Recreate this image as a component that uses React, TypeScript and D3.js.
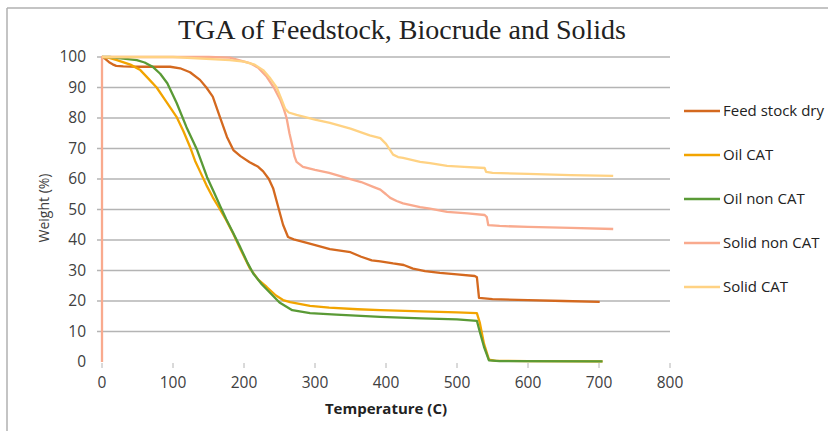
import React from "react";
import * as d3 from "d3";

const title = "TGA of Feedstock, Biocrude and Solids";
const xTicks = [0, 100, 200, 300, 400, 500, 600, 700, 800];
const yTicks = [0, 10, 20, 30, 40, 50, 60, 70, 80, 90, 100];

const seriesNames = ["Feed stock dry", "Oil CAT", "Oil non CAT", "Solid non CAT", "Solid CAT"];
const seriesColors = ["#D4691F", "#F2A400", "#5A9A36", "#F9AA8E", "#FFD283"];

const feedT = [0, 5, 10, 15, 20, 30, 50, 70, 96, 110, 124, 138, 147, 156, 166, 176, 185, 195, 208, 220, 227, 235, 241, 248, 255, 262, 270, 290, 321, 350, 365, 380, 392, 410, 425, 438, 455, 476, 500, 525, 528, 531, 550, 600, 650, 701];
const feedW = [100, 99.3, 98.3, 97.6, 97.1, 96.9, 96.8, 96.8, 96.8, 96.3, 95, 92.5, 90, 87, 80.4, 73.8, 69.5, 67.5, 65.5, 64, 62.5, 60, 57, 51, 45, 41, 40.2, 39, 37, 36, 34.5, 33.3, 33, 32.3, 31.8, 30.6, 29.8, 29.2, 28.7, 28.2, 27.8, 21, 20.6, 20.3, 20, 19.7];

const oilCatT = [0, 10, 21, 40, 54, 65, 77, 90, 105, 115, 124, 131, 138, 147, 156, 165, 175, 185, 195, 208, 220, 232, 245, 255, 265, 293, 320, 360, 392, 450, 500, 528, 532, 538, 545, 555, 600, 705];
const oilCatW = [100, 99.7, 99, 97.5, 95.7, 93, 90, 85.5, 80.4, 75.5, 70.5, 66, 62.5, 58, 54, 50.5, 46.5, 42, 37, 30.8, 27, 24.6, 21.8, 20.3, 19.6, 18.4, 17.8, 17.3, 17, 16.6, 16.3, 16, 13, 6, 0.8, 0.4, 0.3, 0.2];

const oilNonT = [0, 11, 30, 49, 60, 72, 82, 92, 105, 119, 134, 148, 158, 167, 175, 185, 195, 205, 213, 225, 237, 250, 268, 293, 330, 392, 450, 500, 528, 532, 538, 545, 560, 705];
const oilNonW = [100, 100, 99.5, 99, 98.2, 96.7, 94.5, 91.4, 85, 77, 69.5, 60.6, 55.5, 50.8, 46.8, 42.2, 37.5, 32.5, 29, 25.5, 22.6, 19.5, 17, 16, 15.5, 14.8, 14.3, 14, 13.5, 10, 5, 0.5, 0.3, 0.2];

const solidNonT = [0, 0, 50, 100, 150, 180, 208, 220, 232, 242, 251, 256, 260, 264, 268, 271, 274, 283, 300, 320, 345, 365, 382, 392, 400, 406, 415, 424, 448, 462, 486, 515, 539, 542, 544, 560, 600, 660, 720];
const solidNonW = [0, 100, 100, 100, 100, 99.8, 98, 96.5, 93.5, 90, 86, 83, 80, 75, 71, 67.5, 65.6, 64, 63, 62, 60.3, 59, 57.4, 56.5, 55, 53.8, 52.8, 52, 50.8, 50.3, 49.2, 48.7, 48.2, 47.5, 44.9, 44.6, 44.3, 44, 43.6];

const solidCatT = [0, 100, 180, 200, 215, 227, 237, 246, 253, 258, 263, 274, 300, 321, 350, 377, 392, 400, 410, 417, 424, 448, 462, 486, 510, 539, 541, 550, 600, 660, 720];
const solidCatW = [100, 100, 99, 98.5, 97.5, 95.7, 93, 90, 86, 83, 81.8, 81, 79.5, 78.4, 76.5, 74.3, 73.4, 71.5, 68, 67.2, 66.9, 65.6, 65.2, 64.3, 64, 63.6, 62.3, 62, 61.7, 61.3, 61];

const seriesT = [feedT, oilCatT, oilNonT, solidNonT, solidCatT];
const seriesW = [feedW, oilCatW, oilNonW, solidNonW, solidCatW];

export default function App() {
  const W = 828, H = 431;
  const x = d3.scaleLinear().domain([0, 800]).range([102, 670]);
  const y = d3.scaleLinear().domain([0, 100]).range([362, 57]);
  const line = d3.line<[number, number]>().x(d => x(d[0])).y(d => y(d[1]));
  const sans = "'Open Sans', 'Liberation Sans', sans-serif";
  const legendY0 = 111, legendStep = 44;

  return (
    <svg width={W} height={H} style={{ position: "absolute", left: 0, top: 0, background: "#fff" }}>
      <rect x={0} y={0} width={W} height={H} fill="#fff" />
      <line x1={7} y1={8} x2={W} y2={8} stroke="#b0b0b0" strokeWidth={1.5} />
      <line x1={7} y1={8} x2={7} y2={H} stroke="#b0b0b0" strokeWidth={1.5} />
      <text x={402} y={39} textAnchor="middle" fontFamily="'Liberation Serif', serif" fontSize={28} fill="#222">{title}</text>
      {yTicks.filter(t => t > 0).map(t => (
        <line key={"g" + t} x1={97} x2={670} y1={y(t)} y2={y(t)} stroke="#b4b4b4" strokeWidth={1.5} />
      ))}
      {yTicks.map(t => (
        <text key={"yl" + t} x={86} y={y(t)} dy="0.35em" textAnchor="end" fontFamily={sans} fontSize={15.5} fill="#404040">{t}</text>
      ))}
      {xTicks.map(t => (
        <g key={"x" + t}>
          <line x1={x(t)} x2={x(t)} y1={363} y2={368} stroke="#b4b4b4" strokeWidth={1} />
          <text x={x(t)} y={388} textAnchor="middle" fontFamily={sans} fontSize={15.5} fill="#404040">{t}</text>
        </g>
      ))}
      <text transform={`translate(49,208) rotate(-90)`} textAnchor="middle" fontFamily={sans} fontSize={14} fill="#404040">Weight (%)</text>
      <text x={386} y={414} textAnchor="middle" fontFamily={sans} fontSize={15} fontWeight="bold" fill="#222">Temperature (C)</text>
      {seriesNames.map((n, i) => {
        const pts: [number, number][] = seriesT[i].map((t, j) => [t, seriesW[i][j]]);
        return <path key={n} d={line(pts) || ""} fill="none" stroke={seriesColors[i]} strokeWidth={2.3} strokeLinejoin="round" />;
      })}
      {seriesNames.map((n, i) => (
        <g key={"lg" + n}>
          <line x1={684} x2={720} y1={legendY0 + i * legendStep} y2={legendY0 + i * legendStep} stroke={seriesColors[i]} strokeWidth={2.3} />
          <text x={723} y={legendY0 + i * legendStep} dy="0.35em" fontFamily={sans} fontSize={15} fill="#222">{n}</text>
        </g>
      ))}
    </svg>
  );
}
